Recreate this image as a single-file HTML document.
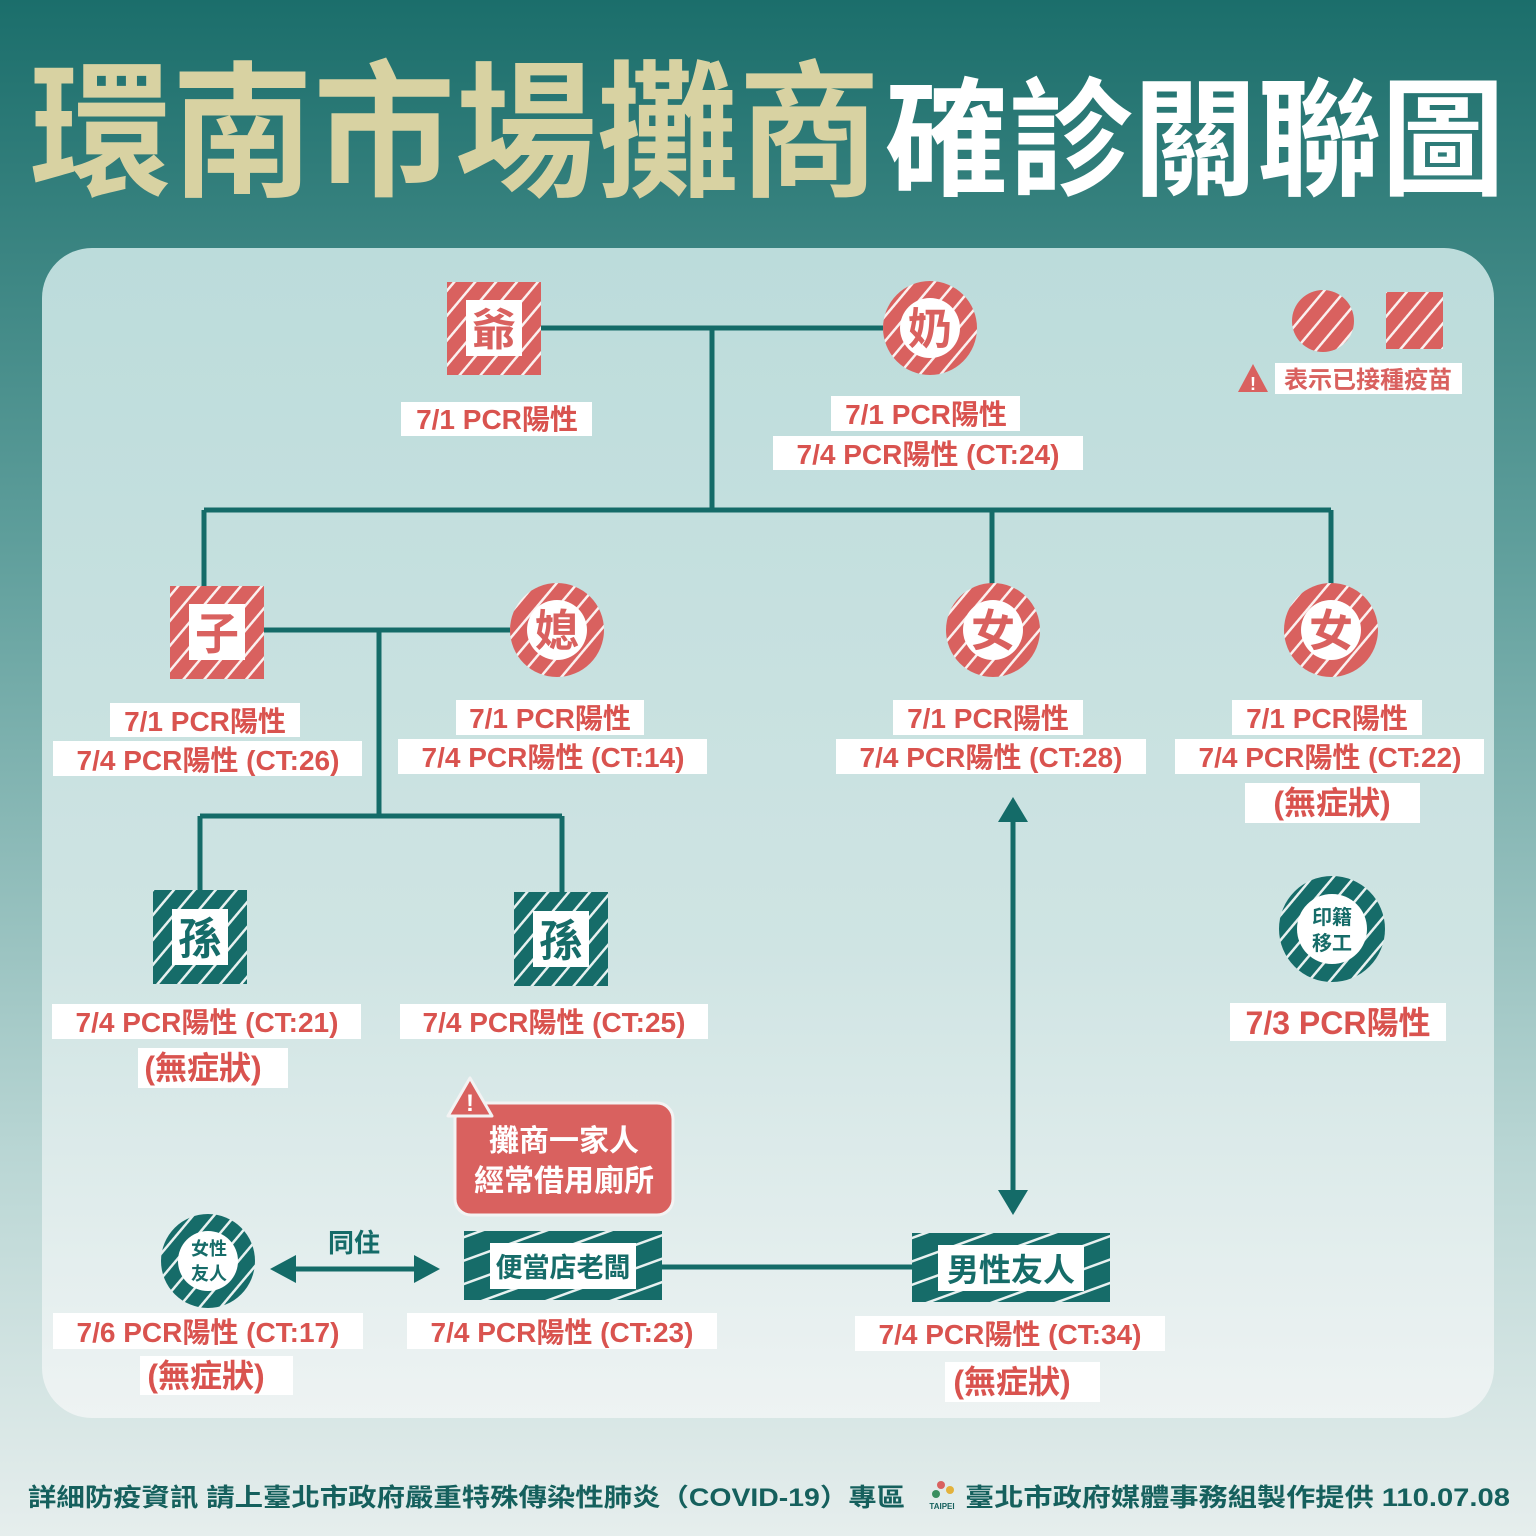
<!DOCTYPE html>
<html><head><meta charset="utf-8"><style>
html,body{margin:0;padding:0;}
svg{display:block;}
text{font-family:"Liberation Sans","Noto Sans CJK TC",sans-serif;font-weight:bold;}
</style></head><body>
<svg width="1536" height="1536" viewBox="0 0 1536 1536" xmlns="http://www.w3.org/2000/svg">
<defs>
<linearGradient id="bg" x1="0" y1="0" x2="0" y2="1">
<stop offset="0" stop-color="#1b6e6b"/><stop offset="0.35" stop-color="#5e9e9b"/><stop offset="0.75" stop-color="#b9d6d4"/><stop offset="1" stop-color="#e6eeed"/></linearGradient>
<linearGradient id="panel" x1="0" y1="0" x2="0" y2="1">
<stop offset="0" stop-color="#bcdcdb"/><stop offset="0.6" stop-color="#cfe4e3"/><stop offset="1" stop-color="#eef3f3"/></linearGradient>
<pattern id="sr" patternUnits="userSpaceOnUse" width="16" height="16" patternTransform="rotate(40)">
<rect width="16" height="16" fill="#d9615f"/><rect width="2.5" height="16" fill="#fff" opacity="0.9"/></pattern>
<pattern id="st" patternUnits="userSpaceOnUse" width="16" height="16" patternTransform="rotate(40)">
<rect width="16" height="16" fill="#166c69"/><rect width="2.5" height="16" fill="#fff" opacity="0.9"/></pattern>
<pattern id="st2" patternUnits="userSpaceOnUse" width="22" height="22" patternTransform="rotate(70)">
<rect width="22" height="22" fill="#166c69"/><rect width="2.5" height="22" fill="#fff" opacity="0.9"/></pattern>
</defs>
<rect width="1536" height="1536" fill="url(#bg)"/>
<text x="30" y="185" font-size="148" fill="#d8d2a2" textLength="850" lengthAdjust="spacingAndGlyphs">環南市場攤商</text>
<text x="885" y="185" font-size="128" fill="#fff" textLength="620" lengthAdjust="spacingAndGlyphs">確診關聯圖</text>
<rect x="42" y="248" width="1452" height="1170" rx="50" fill="url(#panel)"/>

<g stroke="#146b68" stroke-width="5" fill="none">
<path d="M541 328H883M712 328V510M204 510H1331M204 510V586M992 510V584M1331 510V584"/>
<path d="M264 630H510M379 630V816M200 816H562M200 816V890M562 816V892"/>
<path d="M662 1267H912"/>
<path d="M1013 815V1195"/>
<path d="M292 1269H418"/>
</g>
<g fill="#146b68">
<polygon points="1013,797 998,822 1028,822"/>
<polygon points="1013,1215 998,1190 1028,1190"/>
<polygon points="270,1269 296,1255 296,1283"/>
<polygon points="440,1269 414,1255 414,1283"/>
</g>
<text x="354" y="1252" font-size="26" fill="#146b68" text-anchor="middle">同住</text>

<!-- red square nodes -->
<g>
<rect x="447" y="282" width="94" height="93" fill="url(#sr)"/><rect x="466" y="300" width="56" height="56" fill="#fff"/>
<text x="494" y="345" font-size="44" fill="#d9615f" text-anchor="middle">爺</text>
<rect x="170" y="586" width="94" height="93" fill="url(#sr)"/><rect x="189" y="604" width="56" height="56" fill="#fff"/>
<text x="217" y="649" font-size="44" fill="#d9615f" text-anchor="middle">子</text>
</g>
<g>
<circle cx="930" cy="328" r="47" fill="url(#sr)"/><circle cx="930" cy="328" r="30" fill="#fff"/>
<text x="930" y="344" font-size="44" fill="#d9615f" text-anchor="middle">奶</text>
<circle cx="557" cy="630" r="47" fill="url(#sr)"/><circle cx="557" cy="630" r="30" fill="#fff"/>
<text x="557" y="646" font-size="44" fill="#d9615f" text-anchor="middle">媳</text>
<circle cx="993" cy="630" r="47" fill="url(#sr)"/><circle cx="993" cy="630" r="30" fill="#fff"/>
<text x="993" y="646" font-size="44" fill="#d9615f" text-anchor="middle">女</text>
<circle cx="1331" cy="630" r="47" fill="url(#sr)"/><circle cx="1331" cy="630" r="30" fill="#fff"/>
<text x="1331" y="646" font-size="44" fill="#d9615f" text-anchor="middle">女</text>
</g>
<!-- teal nodes -->
<rect x="153" y="890" width="94" height="94" fill="url(#st)"/><rect x="172" y="909" width="56" height="56" fill="#fff"/>
<text x="200" y="954" font-size="44" fill="#166c69" text-anchor="middle">孫</text>
<rect x="514" y="892" width="94" height="94" fill="url(#st)"/><rect x="533" y="911" width="56" height="56" fill="#fff"/>
<text x="561" y="956" font-size="44" fill="#166c69" text-anchor="middle">孫</text>
<circle cx="1332" cy="929" r="53" fill="url(#st)"/><circle cx="1332" cy="929" r="35" fill="#fff"/>
<text x="1332" y="924" font-size="20" fill="#166c69" text-anchor="middle">印籍</text>
<text x="1332" y="950" font-size="20" fill="#166c69" text-anchor="middle">移工</text>
<circle cx="208" cy="1261" r="47" fill="url(#st)"/><circle cx="208" cy="1261" r="30" fill="#fff"/>
<text x="209" y="1255" font-size="18" fill="#166c69" text-anchor="middle">女性</text>
<text x="209" y="1280" font-size="18" fill="#166c69" text-anchor="middle">友人</text>
<rect x="464" y="1231" width="198" height="69" fill="url(#st2)"/><rect x="490" y="1243" width="146" height="46" fill="#fff"/>
<text x="563" y="1277" font-size="27" fill="#166c69" text-anchor="middle">便當店老闆</text>
<rect x="912" y="1233" width="198" height="69" fill="url(#st2)"/><rect x="938" y="1245" width="146" height="46" fill="#fff"/>
<text x="1011" y="1281" font-size="32" fill="#166c69" text-anchor="middle">男性友人</text>

<!-- callout -->
<rect x="455" y="1103" width="218" height="112" rx="16" fill="#d9615f" stroke="#f3f3f3" stroke-width="3"/>
<text x="564" y="1151" font-size="30" fill="#fff" text-anchor="middle">攤商一家人</text>
<text x="564" y="1191" font-size="30" fill="#fff" text-anchor="middle">經常借用廁所</text>
<polygon points="470,1078 448,1116 492,1116" fill="#d9615f" stroke="#f3f3f3" stroke-width="3" stroke-linejoin="round"/>
<text x="470" y="1111" font-size="24" fill="#fff" text-anchor="middle">!</text>

<!-- legend -->
<circle cx="1323" cy="321" r="31" fill="url(#sr)"/>
<rect x="1386" y="292" width="57" height="57" fill="url(#sr)"/>
<polygon points="1253,364 1238,392 1268,392" fill="#d9615f"/>
<text x="1253" y="390" font-size="18" fill="#fff" text-anchor="middle">!</text>
<rect x="1275" y="363" width="187" height="31" fill="#fff"/>
<text x="1368" y="388" font-size="24" fill="#d9615f" text-anchor="middle">表示已接種疫苗</text>

<!-- labels -->
<g fill="#fff">
<rect x="401" y="402" width="191" height="34"/>
<rect x="831" y="396" width="189" height="35"/><rect x="773" y="436" width="310" height="34"/>
<rect x="110" y="703" width="190" height="34"/><rect x="53" y="741" width="309" height="35"/>
<rect x="456" y="700" width="188" height="35"/><rect x="398" y="739" width="309" height="35"/>
<rect x="893" y="700" width="190" height="35"/><rect x="836" y="739" width="310" height="35"/>
<rect x="1232" y="700" width="190" height="35"/><rect x="1175" y="739" width="309" height="35"/><rect x="1245" y="783" width="175" height="40"/>
<rect x="52" y="1004" width="309" height="35"/><rect x="138" y="1048" width="150" height="40"/>
<rect x="400" y="1004" width="308" height="35"/>
<rect x="1230" y="1003" width="216" height="38"/>
<rect x="53" y="1313" width="310" height="36"/><rect x="140" y="1356" width="153" height="39"/>
<rect x="407" y="1313" width="310" height="36"/>
<rect x="855" y="1316" width="310" height="35"/><rect x="945" y="1362" width="155" height="40"/>
</g>
<g fill="#d9534f" font-size="28" text-anchor="middle">
<text x="497" y="429">7/1 PCR陽性</text>
<text x="926" y="424">7/1 PCR陽性</text><text x="928" y="464">7/4 PCR陽性 (CT:24)</text>
<text x="205" y="731">7/1 PCR陽性</text><text x="208" y="770">7/4 PCR陽性 (CT:26)</text>
<text x="550" y="728">7/1 PCR陽性</text><text x="553" y="767">7/4 PCR陽性 (CT:14)</text>
<text x="988" y="728">7/1 PCR陽性</text><text x="991" y="767">7/4 PCR陽性 (CT:28)</text>
<text x="1327" y="728">7/1 PCR陽性</text><text x="1330" y="767">7/4 PCR陽性 (CT:22)</text>
<text x="1332" y="814" font-size="32">(無症狀)</text>
<text x="207" y="1032">7/4 PCR陽性 (CT:21)</text><text x="203" y="1079" font-size="32">(無症狀)</text>
<text x="554" y="1032">7/4 PCR陽性 (CT:25)</text>
<text x="1338" y="1034" font-size="32">7/3 PCR陽性</text>
<text x="208" y="1342">7/6 PCR陽性 (CT:17)</text><text x="206" y="1387" font-size="32">(無症狀)</text>
<text x="562" y="1342">7/4 PCR陽性 (CT:23)</text>
<text x="1010" y="1344">7/4 PCR陽性 (CT:34)</text><text x="1012" y="1393" font-size="32">(無症狀)</text>
</g>

<!-- footer -->
<text x="28" y="1506" font-size="25" fill="#15605d" textLength="877" lengthAdjust="spacingAndGlyphs">詳細防疫資訊 請上臺北市政府嚴重特殊傳染性肺炎（COVID-19）專區</text>
<g fill="#15605d"><circle cx="941" cy="1485" r="4" fill="#d9615f"/><circle cx="950" cy="1490" r="4" fill="#e3b23c"/><circle cx="936" cy="1494" r="4" fill="#3a8f5f"/>
<text x="942" y="1509" font-size="8" text-anchor="middle">TAIPEI</text></g>
<text x="965" y="1506" font-size="25" fill="#15605d" textLength="545" lengthAdjust="spacingAndGlyphs">臺北市政府媒體事務組製作提供 110.07.08</text>
</svg>
</body></html>
